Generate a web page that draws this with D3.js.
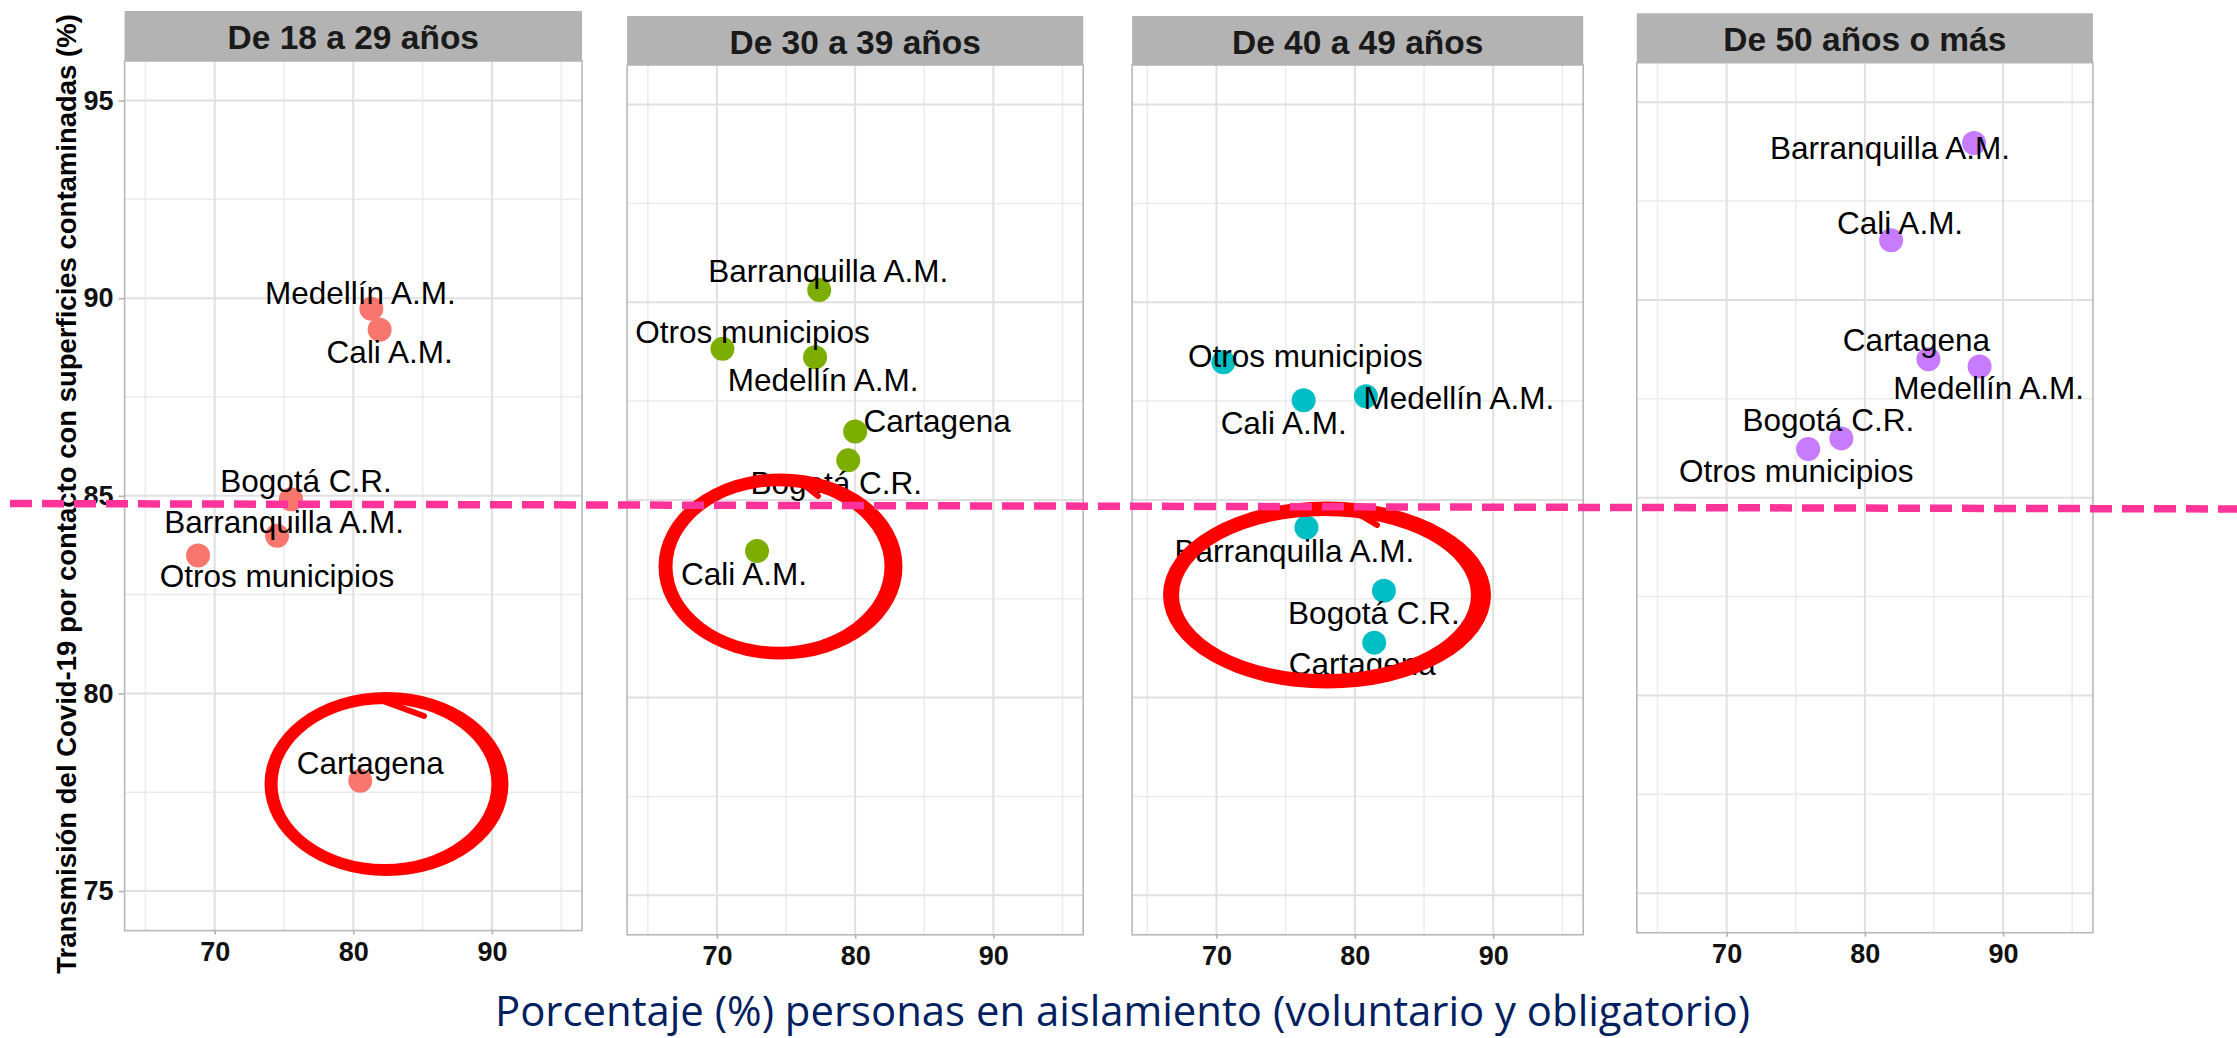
<!DOCTYPE html>
<html>
<head>
<meta charset="utf-8">
<script src="https://cdnjs.cloudflare.com/ajax/libs/d3/7.8.5/d3.min.js"></script>
<style>
    body { margin: 0; background: #fff; }
    svg { display: block; }
</style>
</head>
<body>
<div id="chart"></div>
<script>
// facet titles and colours (ggplot default hue palette)
var panelTitles = ["De 18 a 29 años", "De 30 a 39 años", "De 40 a 49 años", "De 50 años o más"];
var panelColors = ["#F8766D", "#7CAE00", "#00BFC4", "#C77CFF"];

var cities = ["Medellín A.M.", "Cali A.M.", "Bogotá C.R.", "Barranquilla A.M.", "Otros municipios", "Cartagena"];

// % personas en aislamiento, one row per age group, same order as cities
var aislamiento = [
    [81.3, 81.9, 75.5, 74.5, 68.8, 80.5],
    [77.1, 72.9, 79.5, 77.4, 70.4, 80.0],
    [80.8, 76.3, 82.1, 76.5, 70.5, 81.4],
    [88.3, 81.9, 78.3, 87.9, 75.9, 84.6]
];

// % transmision por contacto con superficies contaminadas
var transmision = [
    [89.73, 89.20, 84.91, 83.99, 83.49, 77.79],
    [88.61, 83.71, 86.00, 90.31, 88.82, 86.73],
    [87.62, 87.52, 82.70, 84.30, 88.48, 81.39],
    [88.32, 91.51, 86.50, 93.97, 86.23, 88.50]
];

var xTicks = [70, 80, 90];
var xMinor = [65, 75, 85, 95];
var yTicks = [75, 80, 85, 90, 95];
var yMinor = [77.5, 82.5, 87.5, 92.5];

var yTitle = "Transmisión del Covid-19 por contacto con superficies contaminadas (%)";
var xTitle = "Porcentaje (%) personas en aislamiento (voluntario y obligatorio)";

// where each label sits relative to its point (px), same order as cities
var labelNudge = [
    [[-11, -5], [10, 33], [15, -7], [7, -3], [79, 32], [10, -7]],
    [[8, 34], [-13, 34], [-12, 34], [9, -8], [30, -6], [82, 0]],
    [[93, 13], [-20, 34], [-10, 33], [-12, 34], [82, 5], [-12, 32]],
    [[9, 33], [9, -6], [-13, -7], [-84, 16], [-12, 33], [-12, -8]]
];

// the slide pasted the four facets a little unevenly, so each gets its own frame
var frames = [
    { left: 124.6, right: 582.0, stripTop: 11, plotTop: 61, plotBottom: 930.6 },
    { left: 627.1, right: 1083.2, stripTop: 16, plotTop: 65, plotBottom: 934.8 },
    { left: 1132.1, right: 1583.2, stripTop: 16, plotTop: 65, plotBottom: 934.8, xStart: 1126.5 },
    { left: 1636.8, right: 2092.9, stripTop: 13.3, plotTop: 62.7, plotBottom: 932.7 }
];

// hand drawn highlight rings on top of the chart
var rings = [
    { cx: 386.5, cy: 784, rx: 122, ry: 92, thick: 15, tail: [[372, 697], [424, 716]] },
    { cx: 780.5, cy: 566.5, rx: 122, ry: 93, thick: 16, tail: [[795, 478], [818, 496]] },
    { cx: 1327, cy: 595, rx: 164, ry: 93.5, thick: 18, tail: [[1345, 506], [1377, 525]] }
];

var svgW = 2237;
var svgH = 1038;
var font = "'Liberation Sans', Arial, sans-serif";

var svg = d3.select("#chart")
    .append("svg")
    .attr("width", svgW)
    .attr("height", svgH);

frames.forEach(function(f, p) {
    var xScale = d3.scaleLinear()
        .domain([63.5, 96.5])
        .range([f.xStart || f.left, f.right]);
    var yScale = d3.scaleLinear()
        .domain([74, 96])
        .range([f.plotBottom, f.plotTop]);

    var g = svg.append("g");
    var clipId = "clip" + p;
    g.append("clipPath").attr("id", clipId)
        .append("rect")
        .attr("x", f.left).attr("y", f.plotTop)
        .attr("width", f.right - f.left).attr("height", f.plotBottom - f.plotTop);

    var grid = g.append("g").attr("clip-path", "url(#" + clipId + ")");

    grid.selectAll(".vminor").data(xMinor).enter().append("line")
        .attr("x1", function(d) { return xScale(d) })
        .attr("x2", function(d) { return xScale(d) })
        .attr("y1", f.plotTop).attr("y2", f.plotBottom)
        .attr("stroke", "#EBEBEB").attr("stroke-width", 1.5);
    grid.selectAll(".hminor").data(yMinor).enter().append("line")
        .attr("y1", function(d) { return yScale(d) })
        .attr("y2", function(d) { return yScale(d) })
        .attr("x1", f.left).attr("x2", f.right)
        .attr("stroke", "#EBEBEB").attr("stroke-width", 1.5);
    grid.selectAll(".vmajor").data(xTicks).enter().append("line")
        .attr("x1", function(d) { return xScale(d) })
        .attr("x2", function(d) { return xScale(d) })
        .attr("y1", f.plotTop).attr("y2", f.plotBottom)
        .attr("stroke", "#E0E0E0").attr("stroke-width", 2);
    grid.selectAll(".hmajor").data(yTicks).enter().append("line")
        .attr("y1", function(d) { return yScale(d) })
        .attr("y2", function(d) { return yScale(d) })
        .attr("x1", f.left).attr("x2", f.right)
        .attr("stroke", "#E0E0E0").attr("stroke-width", 2);

    g.append("rect")
        .attr("x", f.left).attr("y", f.plotTop)
        .attr("width", f.right - f.left).attr("height", f.plotBottom - f.plotTop)
        .attr("fill", "none")
        .attr("stroke", "#B8B8B8")
        .attr("stroke-width", 1.6);

    // strip
    g.append("rect")
        .attr("x", f.left).attr("y", f.stripTop)
        .attr("width", f.right - f.left).attr("height", f.plotTop - f.stripTop)
        .attr("fill", "#B3B3B3");
    g.append("text")
        .attr("x", (f.left + f.right) / 2)
        .attr("y", f.stripTop + 38)
        .attr("text-anchor", "middle")
        .attr("font-family", font)
        .attr("font-weight", "bold")
        .attr("font-size", 33.5)
        .attr("fill", "#1A1A1A")
        .text(panelTitles[p]);

    // x axis
    var bAxis = d3.axisBottom(xScale).tickValues(xTicks).tickSize(4).tickPadding(7);
    var xAxis = g.append("g")
        .attr("transform", `translate(0, ${f.plotBottom})`)
        .call(bAxis);
    xAxis.select(".domain").remove();
    xAxis.selectAll("line").attr("stroke", "#B3B3B3").attr("stroke-width", 1.6);
    xAxis.selectAll("text")
        .attr("font-family", font)
        .attr("font-weight", "bold")
        .attr("font-size", 27)
        .attr("fill", "#111");

    // y axis only on the first facet
    if (p == 0) {
        var lAxis = d3.axisLeft(yScale).tickValues(yTicks).tickSize(6).tickPadding(5);
        var yAxis = g.append("g")
            .attr("transform", `translate(${f.left}, 0)`)
            .call(lAxis);
        yAxis.select(".domain").remove();
        yAxis.selectAll("line").attr("stroke", "#B3B3B3").attr("stroke-width", 1.6);
        yAxis.selectAll("text")
            .attr("font-family", font)
            .attr("font-weight", "bold")
            .attr("font-size", 27)
            .attr("fill", "#111");
    }

    var rows = cities.map(function(c, i) {
        return { city: c, x: aislamiento[p][i], y: transmision[p][i], nudge: labelNudge[p][i] };
    });

    g.append("g")
        .selectAll("circle")
        .data(rows)
        .enter()
        .append("circle")
        .attr("cx", function(d) { return xScale(d.x) })
        .attr("cy", function(d) { return yScale(d.y) })
        .attr("r", 12)
        .attr("fill", panelColors[p]);

    g.append("g")
        .selectAll("text")
        .data(rows)
        .enter()
        .append("text")
        .attr("x", function(d) { return xScale(d.x) + d.nudge[0] })
        .attr("y", function(d) { return yScale(d.y) + d.nudge[1] })
        .attr("text-anchor", "middle")
        .attr("font-family", font)
        .attr("font-size", 31.5)
        .attr("fill", "#000")
        .text(function(d) { return d.city });
});

// y axis title
svg.append("text")
    .attr("transform", "translate(75.5, 494) rotate(-90)")
    .attr("text-anchor", "middle")
    .attr("font-family", font)
    .attr("font-weight", "bold")
    .attr("font-size", 27.5)
    .attr("fill", "#000")
    .text(yTitle);

// x axis title (slide text)
svg.append("text")
    .attr("x", 495)
    .attr("y", 1026)
    .attr("textLength", 1255)
    .attr("lengthAdjust", "spacingAndGlyphs")
    .attr("font-family", "'Open Sans', 'Noto Sans', sans-serif")
    .attr("font-size", 42)
    .attr("fill", "#002060")
    .text(xTitle);

// red rings
var ringG = svg.append("g");
rings.forEach(function(r) {
    var outer = ellipsePath(r.cx, r.cy, r.rx, r.ry);
    var inner = ellipsePath(r.cx - 2, r.cy, r.rx - r.thick, r.ry - r.thick * 0.8);
    ringG.append("path")
        .attr("d", outer + inner)
        .attr("fill", "#FF0000")
        .attr("fill-rule", "evenodd");
    ringG.append("path")
        .attr("d", d3.line()(r.tail))
        .attr("stroke", "#FF0000")
        .attr("stroke-width", 6)
        .attr("stroke-linecap", "round");
});

// pink dashed reference line across the whole slide
svg.append("line")
    .attr("x1", 0).attr("y1", 503.5)
    .attr("x2", svgW).attr("y2", 509)
    .attr("stroke", "#FF3399")
    .attr("stroke-width", 7.5)
    .attr("stroke-dasharray", "22 10")
    .attr("stroke-dashoffset", -10);

function ellipsePath(cx, cy, rx, ry) {
    return `M${cx - rx},${cy}a${rx},${ry} 0 1,0 ${2 * rx},0a${rx},${ry} 0 1,0 ${-2 * rx},0Z`;
}
</script>
</body>
</html>
